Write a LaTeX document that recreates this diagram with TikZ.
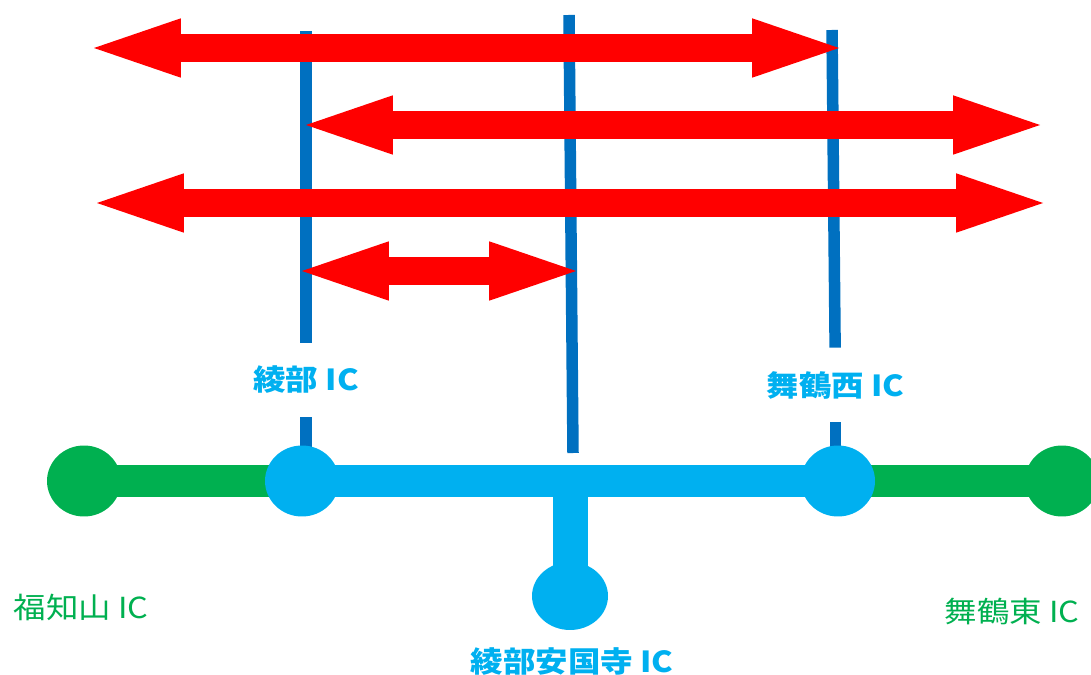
\documentclass[tikz,border=0pt]{standalone}
\usepackage{fontspec}
\usepackage{xcolor}
\usepackage{tikz}
\usetikzlibrary{shapes.geometric,arrows.meta}
\usetikzlibrary{positioning}
\newfontfamily\jpfont{Noto Sans CJK JP}
\definecolor{roadgreen}{HTML}{00B050}
\definecolor{roadcyan}{HTML}{00B0F0}
\definecolor{linkblue}{HTML}{0070C0}
\newcommand{\widen}[1]{\scalebox{1.12}[1]{#1}}
\tikzstyle{green ic} = [ellipse, fill=roadgreen, inner sep=0pt,
                        minimum width=1.48cm, minimum height=1.42cm]
\tikzstyle{cyan ic} = [ellipse, fill=roadcyan, inner sep=0pt,
                       minimum width=1.48cm, minimum height=1.42cm]
\tikzstyle{green name} = [text=roadgreen,
                          font=\jpfont\fontsize{16.5}{18}\selectfont]
\tikzstyle{cyan name} = [text=roadcyan,
                         font=\jpfont\bfseries\fontsize{16.5}{18}\selectfont]
\tikzstyle{gap name} = [cyan name, minimum height=1.48cm, inner sep=0pt]
\tikzstyle{road} = [draw, line width=0.64cm]
\tikzstyle{link} = [draw=linkblue, line width=0.23cm]
\tikzstyle{span arrow} = [draw=red, line width=0.55cm,
    >={Triangle[length=1.74cm, width=1.19cm, line width=0pt]}, <->]

\begin{document}
\begin{tikzpicture}[x=0.02cm, y=-0.02cm]
  \useasboundingbox (0,0) rectangle (1091,675);
  % Place nodes
  \coordinate (fukuchiyama) at (84,481);
  \coordinate (ayabe) at (302,481);
  \coordinate (nishi) at (838,481);
  \coordinate (higashi) at (1062,481);
  \coordinate (ankokuji) at (570,596);
  \coordinate (ayabe top) at (306,31);
  \coordinate (nishi top) at (832,30);
  \coordinate (middle top) at (569,15);
  \coordinate (middle foot) at (573,453);
  \node [gap name] (ayabe name) at (306,380) {\widen{綾部 IC}};
  \node [gap name] (nishi name) at (835.5,385) {\widen{舞鶴西 IC}};
  % Draw edges
  \draw [link] (ayabe top) -- (ayabe name);
  \draw [link] (ayabe name) -- (ayabe name.south |- ayabe);
  \draw [link] (nishi top) -- (nishi name);
  \draw [link] (nishi name) -- (nishi name.south |- nishi);
  \draw [link] (middle top) -- (middle foot);
  \draw [road, roadgreen] (fukuchiyama) -- (higashi);
  \draw [road, roadcyan] (ayabe) -- (nishi);
  \draw [road, roadcyan, line width=0.7cm] (ankokuji) -- (ankokuji |- ayabe);
  % Interchanges
  \node [green ic] (fukuchiyama ic) at (fukuchiyama) {};
  \node [cyan ic] (ayabe ic) at (ayabe) {};
  \node [cyan ic] (nishi ic) at (nishi) {};
  \node [green ic] (higashi ic) at (higashi) {};
  \node [cyan ic, minimum width=1.52cm, minimum height=1.36cm]
    (ankokuji ic) at (ankokuji) {};
  \node [green name] (fukuchiyama name) at (81,607) {\widen{福知山 IC}};
  \node [green name] (higashi name) at (1012,611) {\widen{舞鶴東 IC}};
  \node [cyan name] (ankokuji name) at (572,661) {\widen{綾部安国寺 IC}};
  % Spans
  \coordinate (span1 west) at (94,48);
  \coordinate (span1 east) at (839,48);
  \coordinate (span2 west) at (306,125);
  \coordinate (span2 east) at (1040,125);
  \coordinate (span3 west) at (97,203);
  \coordinate (span3 east) at (1043,203);
  \coordinate (span4 west) at (302,271);
  \coordinate (span4 east) at (576,271);
  \draw [span arrow] (span1 west) -- (span1 east);
  \draw [span arrow] (span2 west) -- (span2 east);
  \draw [span arrow] (span3 west) -- (span3 east);
  \draw [span arrow] (span4 west) -- (span4 east);
\end{tikzpicture}
\end{document}
